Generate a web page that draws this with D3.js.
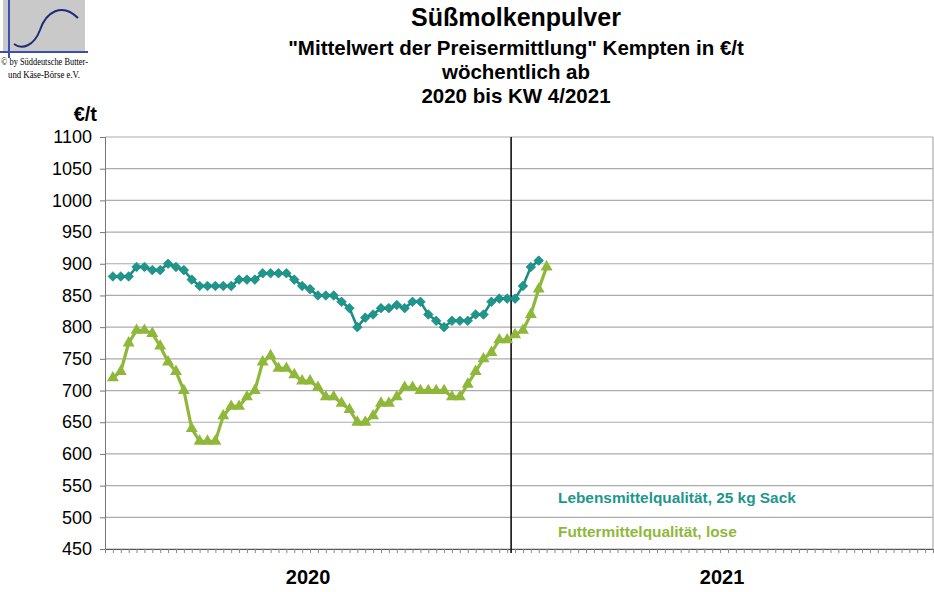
<!DOCTYPE html>
<html>
<head>
<meta charset="utf-8">
<script src="https://cdn.jsdelivr.net/npm/d3@7"></script>
<style>
  body { margin: 0; background: #fff; }
  svg { font-family: "Liberation Sans", Arial, sans-serif; }
</style>
</head>
<body>
<svg id="chart" width="934" height="592"></svg>
<script>
// weeks: 2020 KW 2..52, then 2021 KW 1..5
const kw2020 = d3.range(2, 53).map(k => "2020-KW" + k);
const kw2021 = d3.range(1, 6).map(k => "2021-KW" + k);
const weeks = kw2020.concat(kw2021);

// Lebensmittelqualität, 25 kg Sack
const food = [880, 880, 880, 895, 895, 890, 890, 900, 895, 890,
              875, 865, 865, 865, 865, 865, 875, 875, 875, 885,
              885, 885, 885, 875, 865, 860, 850, 850, 850, 840,
              830, 800, 815, 820, 830, 830, 835, 830, 840, 840,
              820, 810, 800, 810, 810, 810, 820, 820, 840, 845,
              845, 845, 865, 895, 905];

// Futtermittelqualität, lose
const feed = [720, 730, 775, 795, 795, 790, 770, 745, 730, 700,
              640, 620, 620, 620, 660, 675, 675, 690, 700, 745,
              755, 735, 735, 725, 715, 715, 705, 690, 690, 680,
              670, 650, 650, 660, 680, 680, 690, 705, 705, 700,
              700, 700, 700, 690, 690, 710, 730, 750, 760, 780,
              780, 788, 795, 820, 860, 895];

const yTicks = d3.range(450, 1101, 50);
const years = ["2020", "2021"];

const svg = d3.select("#chart");
const plot = { left: 105, right: 933, top: 137, bottom: 549 };
const nSlots = 105;      // week slots along the axis
const split = 51.5;      // year boundary

const x = d3.scaleLinear().domain([0, nSlots]).range([plot.left, plot.right]);
const y = d3.scaleLinear().domain([450, 1100]).range([plot.bottom, plot.top]);
const xi = i => x(i + 1);

const teal = "#1d978b", tealLine = "#1f8d85", green = "#8fb83b";

// logo
const logo = svg.append("g");
logo.append("rect").attr("x", 3).attr("y", 0).attr("width", 82).attr("height", 53).attr("fill", "#c9c9c9");
logo.append("line").attr("x1", 9).attr("x2", 9).attr("y1", 0).attr("y2", 58)
  .attr("stroke", "#3a4fb0").attr("stroke-width", 2);
logo.append("line").attr("x1", 0).attr("x2", 88).attr("y1", 52).attr("y2", 52)
  .attr("stroke", "#3a4fb0").attr("stroke-width", 2);
logo.append("path").attr("d", "M14,44 C22,50 34,46 40,30 C46,12 62,2 78,18")
  .attr("fill", "none").attr("stroke", "#1f2a78").attr("stroke-width", 2);
logo.append("text").attr("x", 1).attr("y", 65)
  .attr("textLength", 87).attr("lengthAdjust", "spacingAndGlyphs")
  .style("font-family", "'Liberation Serif', serif").style("font-size", "11px")
  .text("© by Süddeutsche Butter-");
logo.append("text").attr("x", 8).attr("y", 78)
  .attr("textLength", 72).attr("lengthAdjust", "spacingAndGlyphs")
  .style("font-family", "'Liberation Serif', serif").style("font-size", "11px")
  .text("und Käse-Börse e.V.");

// titles
const titles = [
  { t: "Süßmolkenpulver", y: 26, s: 25 },
  { t: "\"Mittelwert der Preisermittlung\" Kempten in €/t", y: 55, s: 20.5 },
  { t: "wöchentlich ab", y: 79, s: 20.5 },
  { t: "2020 bis KW 4/2021", y: 103, s: 20.5 }
];
svg.append("g").selectAll("text").data(titles).join("text")
  .attr("x", 516).attr("y", d => d.y).attr("text-anchor", "middle")
  .style("font-weight", "bold").style("font-size", d => d.s + "px")
  .text(d => d.t);

svg.append("text").attr("x", 97).attr("y", 121).attr("text-anchor", "end")
  .style("font-weight", "bold").style("font-size", "20px").text("€/t");

// grid
svg.append("g").selectAll("line").data(yTicks).join("line")
  .attr("x1", plot.left).attr("x2", plot.right)
  .attr("y1", d => y(d)).attr("y2", d => y(d))
  .attr("stroke", "#ababab").attr("stroke-width", 1.2);
svg.append("line").attr("x1", plot.right).attr("x2", plot.right)
  .attr("y1", plot.top).attr("y2", plot.bottom)
  .attr("stroke", "#ababab").attr("stroke-width", 1.2);

// y axis
const yAxis = svg.append("g").attr("transform", `translate(${plot.left},0)`)
  .call(d3.axisLeft(y).tickValues(yTicks).tickFormat(d3.format("d")).tickSize(5).tickPadding(8));
yAxis.select(".domain").attr("stroke", "#777");
yAxis.selectAll(".tick line").attr("stroke", "#777");
yAxis.selectAll("text").style("font-size", "18px").attr("fill", "#000")
  .style("font-family", "'Liberation Sans', Arial, sans-serif");

// x axis
const xAxis = svg.append("g").attr("transform", `translate(0,${plot.bottom})`)
  .call(d3.axisBottom(x).tickValues(d3.range(0, nSlots + 1)).tickSize(4).tickFormat(""));
xAxis.select(".domain").attr("stroke", "#555");
xAxis.selectAll(".tick line").attr("stroke", "#888");

// year boundary
svg.append("line").attr("x1", x(split)).attr("x2", x(split))
  .attr("y1", plot.top).attr("y2", plot.bottom + 4)
  .attr("stroke", "#111").attr("stroke-width", 1.6);

svg.append("g").selectAll("text").data(years).join("text")
  .attr("x", (d, i) => i === 0 ? x(split / 2) : x((split + nSlots) / 2))
  .attr("y", 584).attr("text-anchor", "middle")
  .style("font-weight", "bold").style("font-size", "20px").text(d => d);

// series
const line = d3.line().x((d, i) => xi(i)).y(d => y(d));

svg.append("path").datum(feed).attr("d", line)
  .attr("fill", "none").attr("stroke", green).attr("stroke-width", 3.2);
svg.append("path").datum(food).attr("d", line)
  .attr("fill", "none").attr("stroke", tealLine).attr("stroke-width", 2.6);

svg.append("g").selectAll("path").data(feed).join("path")
  .attr("transform", (d, i) => `translate(${xi(i)},${y(d)})`)
  .attr("d", d3.symbol(d3.symbolTriangle, 62))
  .attr("fill", green);

svg.append("g").selectAll("path").data(food).join("path")
  .attr("transform", (d, i) => `translate(${xi(i)},${y(d)}) rotate(45)`)
  .attr("d", d3.symbol(d3.symbolSquare, 46))
  .attr("fill", teal).attr("stroke", "#17807a").attr("stroke-width", 0.6);

// legend labels
const legend = [
  { t: "Lebensmittelqualität, 25 kg Sack", c: teal, y: 503 },
  { t: "Futtermittelqualität, lose", c: green, y: 537 }
];
svg.append("g").selectAll("text").data(legend).join("text")
  .attr("x", 558).attr("y", d => d.y).attr("fill", d => d.c)
  .style("font-weight", "bold").style("font-size", "15.4px").text(d => d.t);
</script>
</body>
</html>
